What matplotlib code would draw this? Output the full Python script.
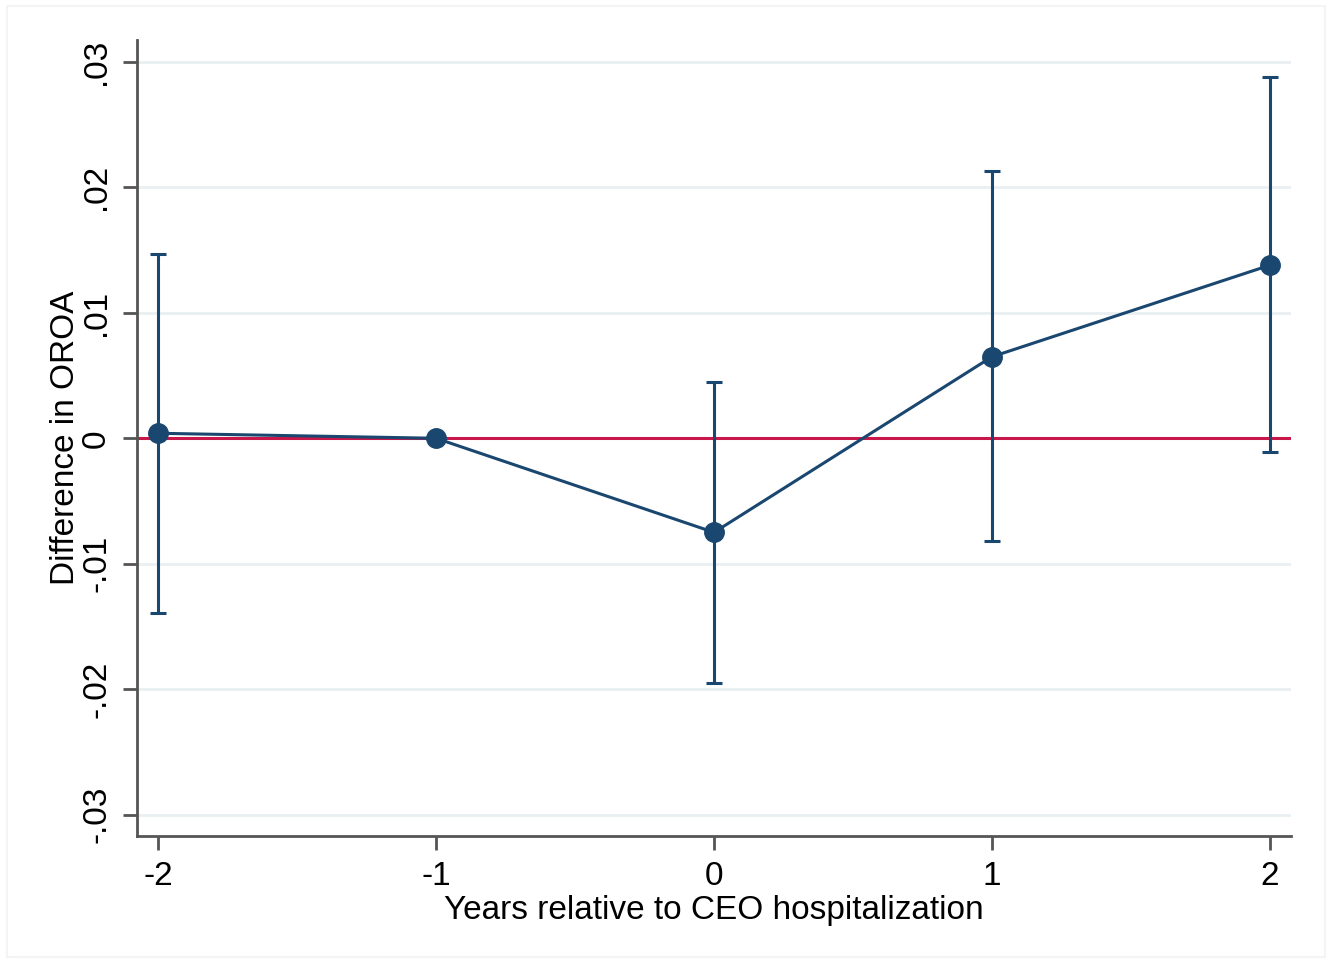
import matplotlib.pyplot as plt
from matplotlib.patches import Rectangle

plt.rcParams['font.family'] = ['Liberation Sans', 'DejaVu Sans']

# event-study estimates
years = [-2, -1, 0, 1, 2]
coef = [0.0004, 0.0, -0.0075, 0.0065, 0.0138]
ci_low = [-0.0139, None, -0.0195, -0.0082, -0.0011]
ci_high = [0.0147, None, 0.0045, 0.0213, 0.0288]

yticks = [-0.03, -0.02, -0.01, 0, 0.01, 0.02, 0.03]
ytick_labels = ["-.03", "-.02", "-.01", "0", ".01", ".02", ".03"]

navy = "#1a476f"

fig = plt.figure(figsize=(13.32, 9.63), dpi=100)
ax = fig.add_axes([0.1029, 0.1319, 0.8663, 0.8266])

# faint outer frame like the Stata graph region
fig.patches.append(Rectangle((0.005, 0.006), 0.99, 0.988, transform=fig.transFigure,
                             fill=False, edgecolor="#f4f4f4", linewidth=1.5))

for t in yticks:
    ax.axhline(t, color="#e9f0f2", linewidth=2, zorder=0)
ax.axhline(0, color="#c8174a", linewidth=2.2, zorder=1)

# CIs only where estimated (reference year omitted)
ci_x = [x for x, lo in zip(years, ci_low) if lo is not None]
ci_c = [c for c, lo in zip(coef, ci_low) if lo is not None]
lo_err = [c - lo for c, lo in zip(coef, ci_low) if lo is not None]
hi_err = [hi - c for c, hi in zip(coef, ci_high) if hi is not None]
ax.errorbar(ci_x, ci_c, yerr=[lo_err, hi_err], fmt="none", ecolor=navy,
            elinewidth=2.2, capsize=6, capthick=2.2, zorder=2)

ax.plot(years, coef, color=navy, linewidth=2.2, marker="o", markersize=14, zorder=3)

ax.set_xlim(-2.0755, 2.0755)
ax.set_ylim(-0.0317, 0.03175)
ax.set_xticks(years)
ax.set_xticklabels([str(y) for y in years])
ax.set_yticks(yticks)
ax.set_yticklabels(ytick_labels, rotation=90, va="center")

for s in ["top", "right"]:
    ax.spines[s].set_visible(False)
for s in ["left", "bottom"]:
    ax.spines[s].set_color("#555555")
    ax.spines[s].set_linewidth(2)
ax.tick_params(axis="both", length=10, width=2, color="#555555", labelsize=24, pad=8)

ax.set_xlabel("Years relative to CEO hospitalization", fontsize=24, labelpad=2)
ax.set_ylabel("Difference in OROA", fontsize=24, labelpad=0)

fig.savefig("out.png", dpi=100)
